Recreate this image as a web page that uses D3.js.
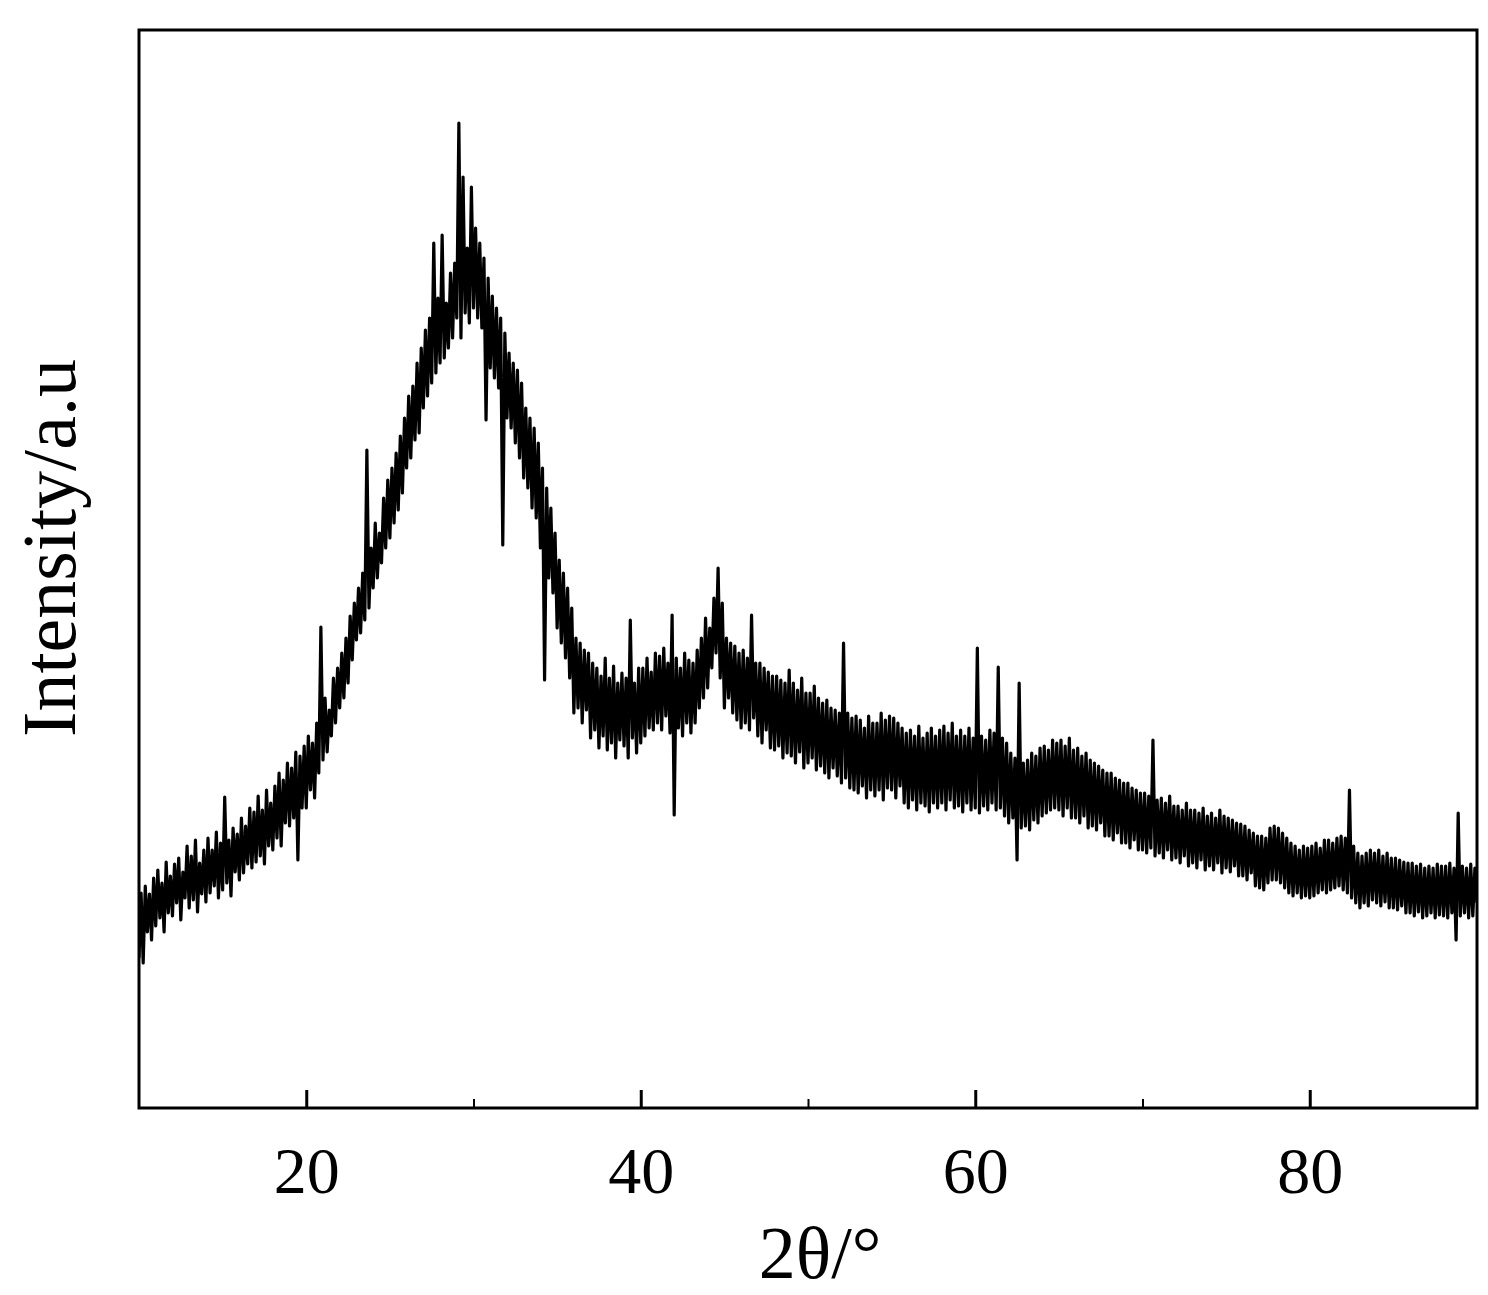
<!DOCTYPE html>
<html>
<head>
<meta charset="utf-8">
<script src="https://cdn.jsdelivr.net/npm/d3@7"></script>
<style>
  html, body { margin: 0; padding: 0; background: #fff; }
  svg { display: block; }
  text { font-family: "Liberation Serif", "Times New Roman", serif; fill: #000; }
</style>
</head>
<body>
<svg id="chart" width="1488" height="1295"></svg>
<script>
// ---- data ----
const xDomain = [10, 90];
const yDomain = [0, 1078];
const xStep = 0.125; // degrees between samples, starting at 10
const majorTicks = [20, 40, 60, 80];
const minorTicks = [30, 50, 70];
const tickLabels = ["20", "40", "60", "80"];
const xTitle = "2θ/°";
const yTitle = "Intensity/a.u";

// intensity (a.u.), one row per degree, 8 samples per row (10.000 ... 89.875), plus 90
const intensity = [
  150,215,145,222,176,214,168,230,
  182,238,190,225,176,246,195,232,
  192,244,205,250,188,236,210,262,
  200,252,208,268,196,245,214,258,
  206,270,215,258,222,276,210,265,
  218,311,225,268,212,280,236,274,
  228,290,235,282,244,300,240,296,
  246,312,252,298,244,318,262,305,
  258,322,270,335,262,328,285,345,
  282,340,290,356,248,352,300,362,
  300,372,318,365,310,385,335,481,
  348,410,356,398,372,430,385,440,
  400,455,410,470,425,492,448,505,
  468,520,475,535,488,658,500,560,
  520,585,530,575,545,610,560,628,
  570,640,585,655,598,672,615,690,
  640,712,650,722,668,745,675,760,
  700,778,712,790,725,865,735,810,
  745,873,750,805,760,835,770,845,
  790,985,770,931,795,860,785,921,
  800,880,790,865,780,850,688,830,
  740,812,730,800,720,790,563,775,
  690,755,680,745,665,738,650,725,
  630,700,620,690,600,680,590,665,
  560,640,428,620,530,600,515,575,
  480,548,465,535,450,520,430,500,
  395,470,400,465,385,458,398,455,
  370,445,378,440,360,432,372,450,
  358,430,365,442,350,425,368,435,
  362,430,350,488,370,425,355,440,
  365,440,372,450,380,436,378,455,
  385,452,378,460,392,445,375,493,
  293,450,380,440,372,455,385,448,
  375,445,385,458,400,470,410,490,
  420,480,440,510,455,540,430,505,
  400,470,410,465,395,462,388,455,
  380,458,385,450,378,493,390,445,
  372,445,365,440,378,436,360,432,
  358,432,362,428,350,425,355,438,
  352,425,345,418,356,430,340,415,
  345,415,350,422,338,410,342,405,
  335,408,330,400,340,398,332,395,
  325,465,330,395,320,390,318,392,
  315,388,322,380,310,392,318,385,
  312,385,318,395,308,388,320,392,
  318,390,310,385,322,380,305,375,
  300,378,308,372,298,382,305,370,
  302,375,296,380,305,372,300,378,
  305,382,298,375,308,385,300,372,
  302,378,296,372,305,380,298,370,
  300,460,295,372,302,368,298,378,
  305,375,298,441,300,370,292,365,
  285,355,290,350,248,425,280,345,
  282,348,278,355,288,352,285,360,
  292,362,295,358,298,368,300,365,
  298,368,292,362,300,370,290,358,
  290,360,285,352,292,355,280,348,
  282,345,278,342,285,338,272,335,
  272,335,268,330,275,328,265,325,
  265,325,260,320,268,318,258,315,
  258,315,255,312,260,368,252,308,
  255,310,250,305,258,312,248,302,
  250,302,245,298,252,305,242,298,
  245,298,240,295,248,300,238,292,
  242,295,238,290,245,298,235,292,
  240,290,236,288,242,285,232,284,
  232,282,228,278,235,275,222,272,
  220,272,218,270,225,280,228,282,
  228,280,225,275,220,270,215,265,
  212,262,215,258,210,262,212,260,
  210,262,212,265,215,260,218,268,
  215,268,218,265,220,270,222,272,
  218,270,215,318,210,262,205,255,
  200,252,205,255,202,258,208,255,
  205,258,202,252,206,255,200,250,
  200,250,198,248,202,246,195,245,
  195,245,192,242,196,244,190,240,
  192,242,195,240,190,244,193,242,
  192,242,190,245,195,240,168,295,
  192,242,195,240,190,244,192,240,
  205
];

// ---- layout ----
const plot = { left: 139, right: 1477, top: 30, bottom: 1108 };
const svg = d3.select("#chart");
svg.append("rect").attr("width", 1488).attr("height", 1295).attr("fill", "#fff");

const x = d3.scaleLinear().domain(xDomain).range([plot.left, plot.right]);
const y = d3.scaleLinear().domain(yDomain).range([plot.bottom, plot.top]);

const points = intensity.map((v, i) => [xDomain[0] + i * xStep, v]);

svg.append("clipPath").attr("id", "clip")
  .append("rect")
  .attr("x", plot.left).attr("y", plot.top)
  .attr("width", plot.right - plot.left).attr("height", plot.bottom - plot.top);

svg.append("path")
  .datum(points)
  .attr("clip-path", "url(#clip)")
  .attr("fill", "none")
  .attr("stroke", "#000")
  .attr("stroke-width", 3.2)
  .attr("stroke-linejoin", "round")
  .attr("d", d3.line().x(d => x(d[0])).y(d => y(d[1])));

// bottom axis: major ticks inward with labels
const axisMajor = d3.axisBottom(x)
  .tickValues(majorTicks)
  .tickFormat((d, i) => tickLabels[i])
  .tickSizeInner(-18).tickSizeOuter(0).tickPadding(38);
const gMajor = svg.append("g").attr("transform", `translate(0,${plot.bottom})`).call(axisMajor);
gMajor.select(".domain").remove();
gMajor.selectAll("line").attr("stroke", "#000").attr("stroke-width", 3);
gMajor.selectAll("text")
  .attr("font-family", "Liberation Serif, Times New Roman, serif")
  .attr("font-size", 66).attr("fill", "#000");

const axisMinor = d3.axisBottom(x)
  .tickValues(minorTicks).tickFormat("")
  .tickSizeInner(-9).tickSizeOuter(0);
const gMinor = svg.append("g").attr("transform", `translate(0,${plot.bottom})`).call(axisMinor);
gMinor.select(".domain").remove();
gMinor.selectAll("line").attr("stroke", "#000").attr("stroke-width", 2);

// frame
svg.append("rect")
  .attr("x", plot.left).attr("y", plot.top)
  .attr("width", plot.right - plot.left).attr("height", plot.bottom - plot.top)
  .attr("fill", "none").attr("stroke", "#000").attr("stroke-width", 3);

// titles
svg.append("text")
  .attr("x", 820).attr("y", 1278)
  .attr("text-anchor", "middle")
  .attr("font-size", 74)
  .text(xTitle);

svg.append("text")
  .attr("transform", "translate(75,548) rotate(-90)")
  .attr("text-anchor", "middle")
  .attr("font-size", 76)
  .text(yTitle);
</script>
</body>
</html>
